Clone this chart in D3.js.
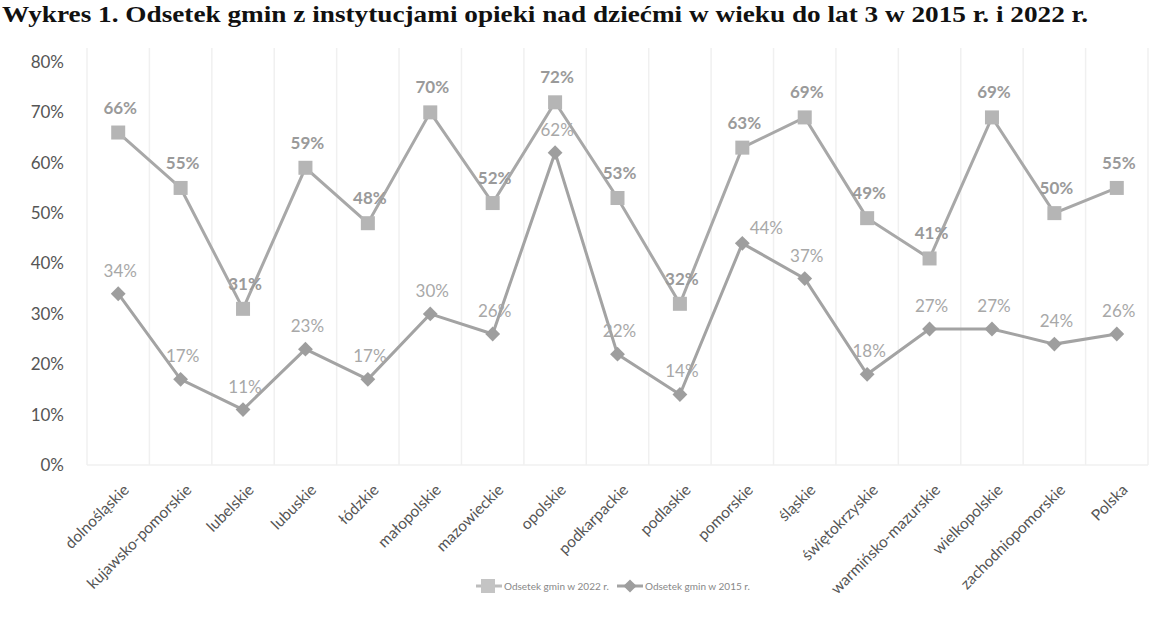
<!DOCTYPE html>
<html lang="pl">
<head>
    <meta charset="UTF-8"/>
    <title>Wykres 1</title>
    <script src="https://d3js.org/d3.v7.min.js"></script>
    <style>
        body { margin: 0; background: #fff; }
        svg { display: block; }
    </style>
</head>
<body>
    <div id="chart"></div>

    <script>
        // data
        var categories = ["dolnośląskie", "kujawsko-pomorskie", "lubelskie", "lubuskie", "łódzkie",
            "małopolskie", "mazowieckie", "opolskie", "podkarpackie", "podlaskie", "pomorskie",
            "śląskie", "świętokrzyskie", "warmińsko-mazurskie", "wielkopolskie",
            "zachodniopomorskie", "Polska"];
        var values2022 = [66, 55, 31, 59, 48, 70, 52, 72, 53, 32, 63, 69, 49, 41, 69, 50, 55];
        var values2015 = [34, 17, 11, 23, 17, 30, 26, 62, 22, 14, 44, 37, 18, 27, 27, 24, 26];
        var yTicks = [0, 10, 20, 30, 40, 50, 60, 70, 80];

        var w = 1158;
        var h = 636;

        var xScale = d3.scaleBand()
                        .domain(categories)
                        .range([87, 1148]);

        var yScale = d3.scaleLinear()
                        .domain([0, 80])
                        .range([465, 62]);

        function cx(d) { return xScale(d) + xScale.bandwidth() / 2; }

        var svg = d3.select("#chart")
                    .append("svg")
                    .attr("width", w)
                    .attr("height", h);

        // title
        svg.append("text")
            .attr("x", 2)
            .attr("y", 22)
            .attr("textLength", 1086)
            .attr("lengthAdjust", "spacingAndGlyphs")
            .style("font-family", "'Liberation Serif', serif")
            .style("font-weight", "bold")
            .style("font-size", "23px")
            .attr("fill", "#111")
            .text("Wykres 1. Odsetek gmin z instytucjami opieki nad dziećmi w wieku do lat 3 w 2015 r. i 2022 r.");

        // faint vertical gridlines between categories
        var bounds = categories.map(function(d) { return xScale(d); });
        bounds.push(xScale.range()[1]);
        svg.selectAll("line.grid")
            .data(bounds)
            .enter()
            .append("line")
            .attr("class", "grid")
            .attr("x1", function(d) { return d; })
            .attr("x2", function(d) { return d; })
            .attr("y1", 48)
            .attr("y2", yScale(0))
            .attr("stroke", "#f0f0f0")
            .attr("stroke-width", 1.5);

        svg.append("line")
            .attr("x1", xScale.range()[0]).attr("x2", xScale.range()[1])
            .attr("y1", yScale(0)).attr("y2", yScale(0))
            .attr("stroke", "#f0f0f0")
            .attr("stroke-width", 1.5);

        // y axis
        var yAxis = d3.axisLeft(yScale)
                        .tickValues(yTicks)
                        .tickFormat(function(d) { return d + "%"; })
                        .tickSize(0)
                        .tickPadding(0);
        var gy = svg.append("g")
            .attr("transform", "translate(64,0)")
            .call(yAxis);
        gy.select(".domain").remove();
        gy.selectAll("text")
            .style("font-family", "Lato, sans-serif")
            .style("font-size", "17px")
            .attr("fill", "#555");

        // x axis labels
        var xAxis = d3.axisBottom(xScale).tickSize(0).tickPadding(0);
        var gx = svg.append("g")
            .attr("transform", "translate(0," + (yScale(0) + 22) + ")")
            .call(xAxis);
        gx.select(".domain").remove();
        gx.selectAll("text")
            .style("font-family", "Lato, sans-serif")
            .style("font-size", "15.5px")
            .attr("fill", "#555")
            .attr("text-anchor", "end")
            .attr("dy", "0.35em")
            .attr("transform", "translate(8,0) rotate(-45)");

        var line = d3.line()
                    .x(function(d, i) { return cx(categories[i]); })
                    .y(function(d) { return yScale(d); });

        // 2022 series
        svg.append("path")
            .datum(values2022)
            .attr("d", line)
            .attr("fill", "none")
            .attr("stroke", "#a8a8a8")
            .attr("stroke-width", 3);

        svg.selectAll("rect.m22")
            .data(values2022)
            .enter()
            .append("rect")
            .attr("class", "m22")
            .attr("x", function(d, i) { return cx(categories[i]) - 7; })
            .attr("y", function(d) { return yScale(d) - 7; })
            .attr("width", 14)
            .attr("height", 14)
            .attr("fill", "#b5b5b5");

        // 2015 series
        svg.append("path")
            .datum(values2015)
            .attr("d", line)
            .attr("fill", "none")
            .attr("stroke", "#a3a3a3")
            .attr("stroke-width", 3);

        var diamond = d3.symbol().type(d3.symbolDiamond2).size(140);
        svg.selectAll("path.m15")
            .data(values2015)
            .enter()
            .append("path")
            .attr("class", "m15")
            .attr("d", diamond)
            .attr("transform", function(d, i) {
                return "translate(" + cx(categories[i]) + "," + yScale(d) + ")";
            })
            .attr("fill", "#9e9e9e");

        // data labels
        svg.selectAll("text.l22")
            .data(values2022)
            .enter()
            .append("text")
            .attr("class", "l22")
            .attr("x", function(d, i) { return cx(categories[i]) + 2; })
            .attr("y", function(d) { return yScale(d) - 19; })
            .attr("text-anchor", "middle")
            .style("font-family", "Lato, sans-serif")
            .style("font-size", "17px")
            .style("font-weight", "bold")
            .attr("fill", "#9a9a9a")
            .text(function(d) { return d + "%"; });

        // pomorskie 2015 label sits to the right in the original
        var shift2015 = { "pomorskie": [22, 8] };
        svg.selectAll("text.l15")
            .data(values2015)
            .enter()
            .append("text")
            .attr("class", "l15")
            .attr("x", function(d, i) {
                var s = shift2015[categories[i]] || [0, 0];
                return cx(categories[i]) + 2 + s[0];
            })
            .attr("y", function(d, i) {
                var s = shift2015[categories[i]] || [0, 0];
                return yScale(d) - 17 + s[1];
            })
            .attr("text-anchor", "middle")
            .style("font-family", "Lato, sans-serif")
            .style("font-size", "17px")
            .attr("fill", "#a8a8a8")
            .text(function(d) { return d + "%"; });

        // legend
        var lg = svg.append("g").attr("transform", "translate(0,586)");
        lg.append("line").attr("x1", 476).attr("x2", 502).attr("y1", 0).attr("y2", 0)
            .attr("stroke", "#bdbdbd").attr("stroke-width", 3);
        lg.append("rect").attr("x", 481).attr("y", -7).attr("width", 14).attr("height", 14)
            .attr("fill", "#c4c4c4");
        lg.append("text").attr("x", 504).attr("y", 3.5)
            .style("font-family", "Lato, sans-serif").style("font-size", "10px")
            .attr("fill", "#888").text("Odsetek gmin w 2022 r.");
        lg.append("line").attr("x1", 617).attr("x2", 643).attr("y1", 0).attr("y2", 0)
            .attr("stroke", "#a3a3a3").attr("stroke-width", 3);
        lg.append("path").attr("d", d3.symbol().type(d3.symbolDiamond2).size(110))
            .attr("transform", "translate(630,0)").attr("fill", "#9e9e9e");
        lg.append("text").attr("x", 645).attr("y", 3.5)
            .style("font-family", "Lato, sans-serif").style("font-size", "10px")
            .attr("fill", "#888").text("Odsetek gmin w 2015 r.");
    </script>
</body>
</html>
